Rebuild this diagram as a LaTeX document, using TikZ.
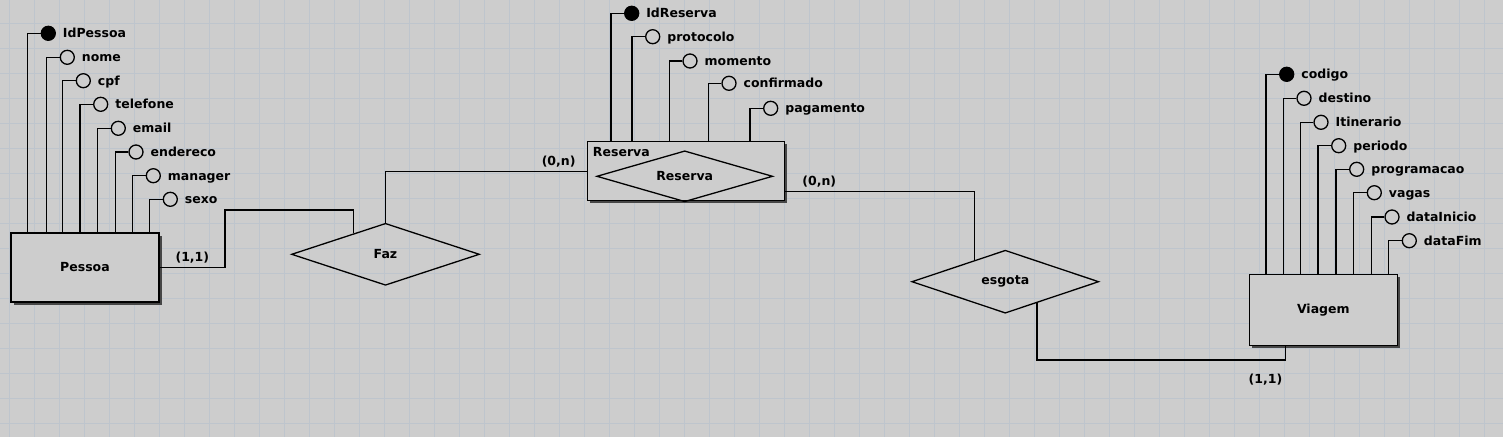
\documentclass[tikz,border=0pt]{standalone}
\usepackage{fontspec}
\setmainfont{DejaVu Sans}
\usepackage{tikz}
\usetikzlibrary{shapes.geometric, shadows}
\definecolor{bgc}{RGB}{205,205,205}
\definecolor{gridc}{RGB}{190,197,205}
\definecolor{shadowc}{RGB}{70,70,70}

\begin{document}
\begin{tikzpicture}[x=1pt, y=-1pt, line width=1.3pt,
    font=\bfseries\fontsize{12.5}{14}\selectfont,
    entity/.style={draw, fill=bgc, inner sep=0pt, minimum width=148pt, minimum height=69pt,
      drop shadow={fill=shadowc, opacity=1, shadow xshift=2.5pt, shadow yshift=-2.5pt}},
    rel/.style={draw, diamond, aspect=3, inner sep=0pt},
    attr/.style={draw, circle, fill=bgc, minimum size=14pt, inner sep=0pt,
      label={[label distance=3pt, text height=12pt, text depth=3pt]right:#1}},
    keyattr/.style={attr=#1, fill=black}]
    \fill[bgc] (0,0) rectangle (1503,437);
    \useasboundingbox (0,0) rectangle (1503,437);
    \foreach \x in {9.5,34.5,...,1503} \draw[gridc, line width=1pt] (\x,0) -- (\x,437);
    \foreach \y in {23.5,48.5,...,437} \draw[gridc, line width=1pt] (0,\y) -- (1503,\y);

    \node[entity] (pes) at (85,267.5) {Pessoa};
    \node[entity, minimum width=197pt, minimum height=59pt] (res) at (686,171.3) {};
    \node[anchor=west] (restit) at (589,152.5) {Reserva};
    \node[rel, minimum width=176pt, minimum height=51pt] (resrel) at (684.7,176.3) {Reserva};
    \node[entity, minimum height=71pt] (via) at (1323.3,309.7) {Viagem};
    \node[rel, minimum width=188pt, minimum height=62pt] (faz) at (385.5,254.3) {Faz};
    \node[rel, minimum width=187pt, minimum height=63pt] (esg) at (1005.3,281.7) {esgota};

    \node[keyattr=IdPessoa] (pa0) at (48.3,33.3) {};
    \foreach \i/\t/\x/\y in {1/nome/67.3/57.3, 2/cpf/83.3/80.7, 3/telefone/100.7/104.3,
        4/email/118.3/128.3, 5/endereco/136/152, 6/manager/153.3/175.7, 7/sexo/170.3/199.3} {
      \node[attr=\t] (pa\i) at (\x,\y) {};
    }
    \foreach \i in {0,...,7} \draw (pa\i.west) -- ++(-13,0) coordinate (k) -- (k |- pes.north);

    \node[keyattr=IdReserva] (ra0) at (631.7,13.3) {};
    \foreach \i/\t/\x/\y in {1/protocolo/652.7/36.7, 2/momento/690/61, 3/confirmado/729/83.3,
        4/pagamento/770.7/108.3} {
      \node[attr=\t] (ra\i) at (\x,\y) {};
    }
    \foreach \i in {0,...,4} \draw (ra\i.west) -- ++(-13,0) coordinate (k) -- (k |- res.north);

    \node[keyattr=codigo] (va0) at (1286.7,74.3) {};
    \foreach \i/\t/\x/\y in {1/destino/1304/98.3, 2/Itinerario/1321/122.3, 3/periodo/1338.7/145.7,
        4/programacao/1356.7/169.3, 5/vagas/1374.3/192.7, 6/dataInicio/1392/217, 7/dataFim/1409.3/240.7} {
      \node[attr=\t] (va\i) at (\x,\y) {};
    }
    \foreach \i in {0,...,7} \draw (va\i.west) -- ++(-13,0) coordinate (k) -- (k |- via.north);

    \draw (pes.east) -| (225,210) node[pos=0.25, above] (c1) {(1,1)} -| (faz.147);
    \draw (faz.north) |- (res.west) node[pos=0.93, above] (c2) {(0,n)};
    \draw ([yshift=-20pt]res.east) -| (esg.145) node[pos=0.09, above] (c3) {(0,n)};
    \draw (esg.-34) |- ([xshift=-38pt, yshift=-14pt]via.south) node[pos=0.96, below, yshift=-10pt] (c4) {(1,1)}
      -- ([xshift=-38pt]via.south);
  \end{tikzpicture}
\end{document}
